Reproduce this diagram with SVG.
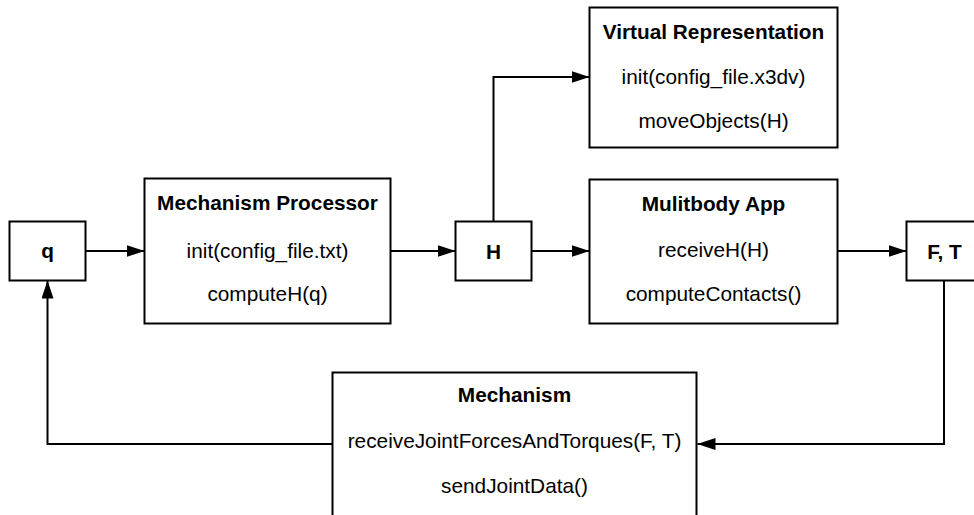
<svg xmlns="http://www.w3.org/2000/svg" width="974" height="515" viewBox="0 0 974 515">
<style>
.box{fill:#fff;stroke:#000;stroke-width:2}
.t{font-family:"Liberation Sans",Arial,Helvetica,sans-serif;font-size:20.8px;fill:#000;text-anchor:middle}
.b{font-weight:bold}
.c{fill:none;stroke:#000;stroke-width:2}
</style>
<defs>
<marker id="ah" markerUnits="userSpaceOnUse" markerWidth="18" markerHeight="12" refX="18" refY="6" orient="auto">
<path d="M0,0 L18,6 L0,12 z" fill="#000"/>
</marker>
</defs>
<rect width="974" height="515" fill="#fff"/>
<g id="connectors">
<path class="c" d="M85.5,251 H144.5" marker-end="url(#ah)"/>
<path class="c" d="M390.5,251 H455.5" marker-end="url(#ah)"/>
<path class="c" d="M531.5,251 H589.5" marker-end="url(#ah)"/>
<path class="c" d="M493.5,221.5 V77 H589.5" marker-end="url(#ah)"/>
<path class="c" d="M837.5,251 H906.5" marker-end="url(#ah)"/>
<path class="c" d="M944,280.5 V444 H697.5" marker-end="url(#ah)"/>
<path class="c" d="M332.5,444 H47.5 V280.5" marker-end="url(#ah)"/>
</g>
<g id="q">
<rect class="box" x="9.5" y="221.5" width="76" height="59"/>
<text class="t b" x="47.5" y="258">q</text>
</g>
<g id="mechanism-processor">
<rect class="box" x="144.5" y="178.5" width="246" height="145"/>
<text class="t b" x="267.5" y="209.5">Mechanism Processor</text>
<text class="t" x="267.5" y="258">init(config_file.txt)</text>
<text class="t" x="267.5" y="301">computeH(q)</text>
</g>
<g id="H">
<rect class="box" x="455.5" y="221.5" width="76" height="59"/>
<text class="t b" x="493.5" y="258.5">H</text>
</g>
<g id="virtual-representation">
<rect class="box" x="589.5" y="7.5" width="248" height="140"/>
<text class="t b" x="713.5" y="38.5">Virtual Representation</text>
<text class="t" x="713.5" y="84">init(config_file.x3dv)</text>
<text class="t" x="713.5" y="128">moveObjects(H)</text>
</g>
<g id="multibody-app">
<rect class="box" x="589.5" y="179.5" width="248" height="144"/>
<text class="t b" x="713.5" y="210.5">Mulitbody App</text>
<text class="t" x="713.5" y="257">receiveH(H)</text>
<text class="t" x="713.5" y="301">computeContacts()</text>
</g>
<g id="FT">
<rect class="box" x="906.5" y="221.5" width="76" height="59"/>
<text class="t b" x="944.5" y="258.5">F, T</text>
</g>
<g id="mechanism">
<rect class="box" x="332.5" y="372.5" width="364" height="200"/>
<text class="t b" x="514.5" y="402">Mechanism</text>
<text class="t" x="514.5" y="448">receiveJointForcesAndTorques(F, T)</text>
<text class="t" x="514.5" y="493">sendJointData()</text>
</g>
</svg>
